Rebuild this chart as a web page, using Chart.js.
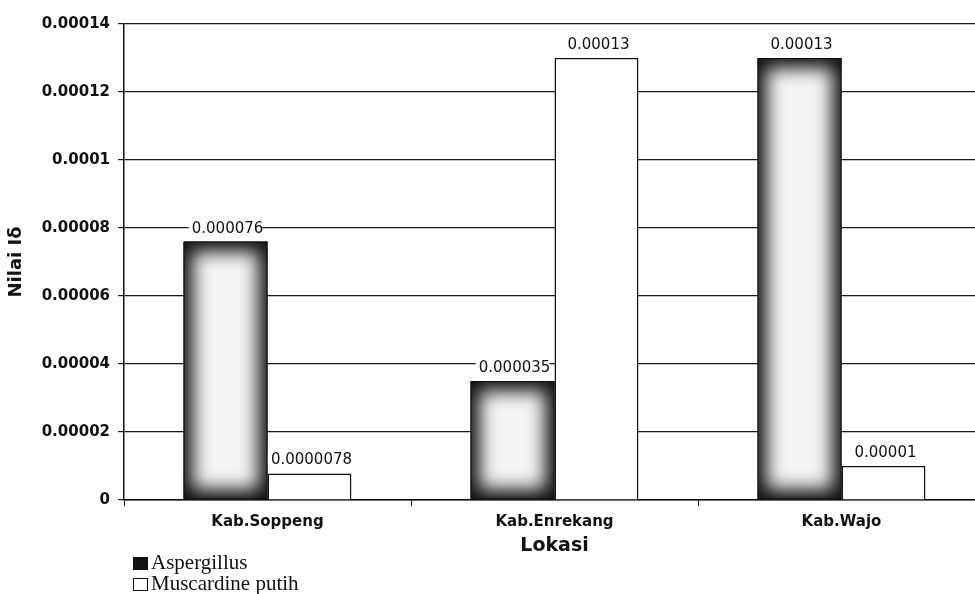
<!DOCTYPE html>
<html>
<head>
<meta charset="utf-8">
<script src="https://cdn.jsdelivr.net/npm/chart.js@4/dist/chart.umd.min.js"></script>
<style>
  html, body { margin: 0; padding: 0; background: #fff; overflow: hidden; }
  #wrap { position: relative; width: 975px; height: 594px; overflow: hidden; }
  #c { display: block; }
  #legend { position: absolute; left: 133px; top: 552px; font-family: 'Liberation Serif', serif; font-size: 21px; color: #111; line-height: 21px; }
  #legend .row { display: flex; align-items: center; height: 21px; }
  #legend .box { width: 15px; height: 13px; margin-right: 3px; margin-top: 2px; box-sizing: border-box; border: 1.5px solid #111; }
</style>
</head>
<body>
<div id="wrap">
  <canvas id="c" width="990" height="594"></canvas>
  <div id="legend"></div>
</div>
<script>
// Locations and index values per fungus group
const categories = ['Kab.Soppeng', 'Kab.Enrekang', 'Kab.Wajo'];
const aspergillus = [0.000076, 0.000035, 0.00013];
const muscardinePutih = [0.0000078, 0.00013, 0.00001];
const yTickLabels = ['0', '0.00002', '0.00004', '0.00006', '0.00008', '0.0001', '0.00012', '0.00014'];
const seriesNames = ['Aspergillus', 'Muscardine putih'];

const SANS = "'DejaVu Sans', sans-serif";

// Soft "glow" fill for the Aspergillus bars plus value labels above every bar
const barDecor = {
  id: 'barDecor',
  afterDatasetsDraw(chart) {
    const ctx = chart.ctx;
    const glowMeta = chart.getDatasetMeta(0);
    glowMeta.data.forEach(el => {
      const p = el.getProps(['x', 'y', 'base', 'width'], true);
      const l = p.x - p.width / 2, t = p.y, w = p.width, h = p.base - p.y;
      ctx.save();
      ctx.beginPath();
      ctx.rect(l, t, w, h);
      ctx.clip();
      ctx.fillStyle = '#101010';
      ctx.fillRect(l, t, w, h);
      ctx.filter = 'blur(9px)';
      ctx.fillStyle = '#f3f3f3';
      ctx.fillRect(l + 9, t + 10, w - 18, h - 20);
      ctx.restore();
      ctx.save();
      ctx.strokeStyle = '#111';
      ctx.lineWidth = 1;
      ctx.strokeRect(l + 0.5, t + 0.5, w - 1, h - 1);
      ctx.restore();
    });

    ctx.save();
    ctx.font = '15px ' + SANS;
    ctx.textAlign = 'center';
    ctx.textBaseline = 'alphabetic';
    chart.data.datasets.forEach((ds, di) => {
      const meta = chart.getDatasetMeta(di);
      meta.data.forEach((el, i) => {
        const p = el.getProps(['x', 'y'], true);
        const txt = String(ds.data[i]);
        const tw = ctx.measureText(txt).width;
        const base = p.y - 9;
        ctx.fillStyle = '#fff';
        ctx.fillRect(p.x - tw / 2 - 1, base - 12, tw + 2, 14);
        ctx.fillStyle = '#111';
        ctx.fillText(txt, p.x + 2, base);
      });
    });
    ctx.restore();
  }
};

const chart = new Chart(document.getElementById('c'), {
  type: 'bar',
  data: {
    labels: categories,
    datasets: [
      {
        label: seriesNames[0],
        data: aspergillus,
        backgroundColor: '#111',
        borderWidth: 0
      },
      {
        label: seriesNames[1],
        data: muscardinePutih,
        backgroundColor: '#ffffff',
        borderColor: '#111',
        borderWidth: 1.5
      }
    ]
  },
  options: {
    responsive: false,
    animation: false,
    devicePixelRatio: 1,
    layout: { padding: { left: 0, right: 5, top: 24, bottom: 37 } },
    datasets: { bar: { categoryPercentage: 0.585, barPercentage: 1 } },
    plugins: {
      legend: { display: false },
      tooltip: { enabled: false }
    },
    scales: {
      x: {
        afterFit(scale) { scale.height = 57; },
        grid: { drawOnChartArea: false, drawTicks: true, tickLength: 6, color: '#111', offset: true },
        border: { color: '#111', width: 1.5 },
        ticks: { color: '#111', font: { family: SANS, size: 15, weight: 'bold' }, padding: 7 },
        title: { display: true, text: 'Lokasi', color: '#111', font: { family: SANS, size: 19, weight: 'bold' }, padding: { top: 2, bottom: 0 } }
      },
      y: {
        min: 0,
        max: 0.00014,
        afterFit(scale) { scale.width = 124; },
        afterBuildTicks(scale) {
          scale.ticks = yTickLabels.map((_, i) => ({ value: i * 0.00002 }));
        },
        grid: { color: '#1a1a1a', lineWidth: 1.2, tickLength: 6 },
        border: { color: '#111', width: 1.5 },
        ticks: {
          color: '#111',
          padding: 8,
          font: { family: SANS, size: 15, weight: 'bold' },
          callback: (v, i) => yTickLabels[i]
        },
        title: { display: true, text: 'Nilai Iδ', color: '#111', font: { family: SANS, size: 18, weight: 'bold' }, padding: { top: 6, bottom: 0 } }
      }
    }
  },
  plugins: [barDecor]
});

// Legend stacked under the axis, built from the chart's datasets
const legend = document.getElementById('legend');
chart.data.datasets.forEach((ds, i) => {
  const row = document.createElement('div');
  row.className = 'row';
  const box = document.createElement('span');
  box.className = 'box';
  box.style.background = i === 0 ? '#111' : '#fff';
  const label = document.createElement('span');
  label.textContent = ds.label;
  row.appendChild(box);
  row.appendChild(label);
  legend.appendChild(row);
});
</script>
</body>
</html>
